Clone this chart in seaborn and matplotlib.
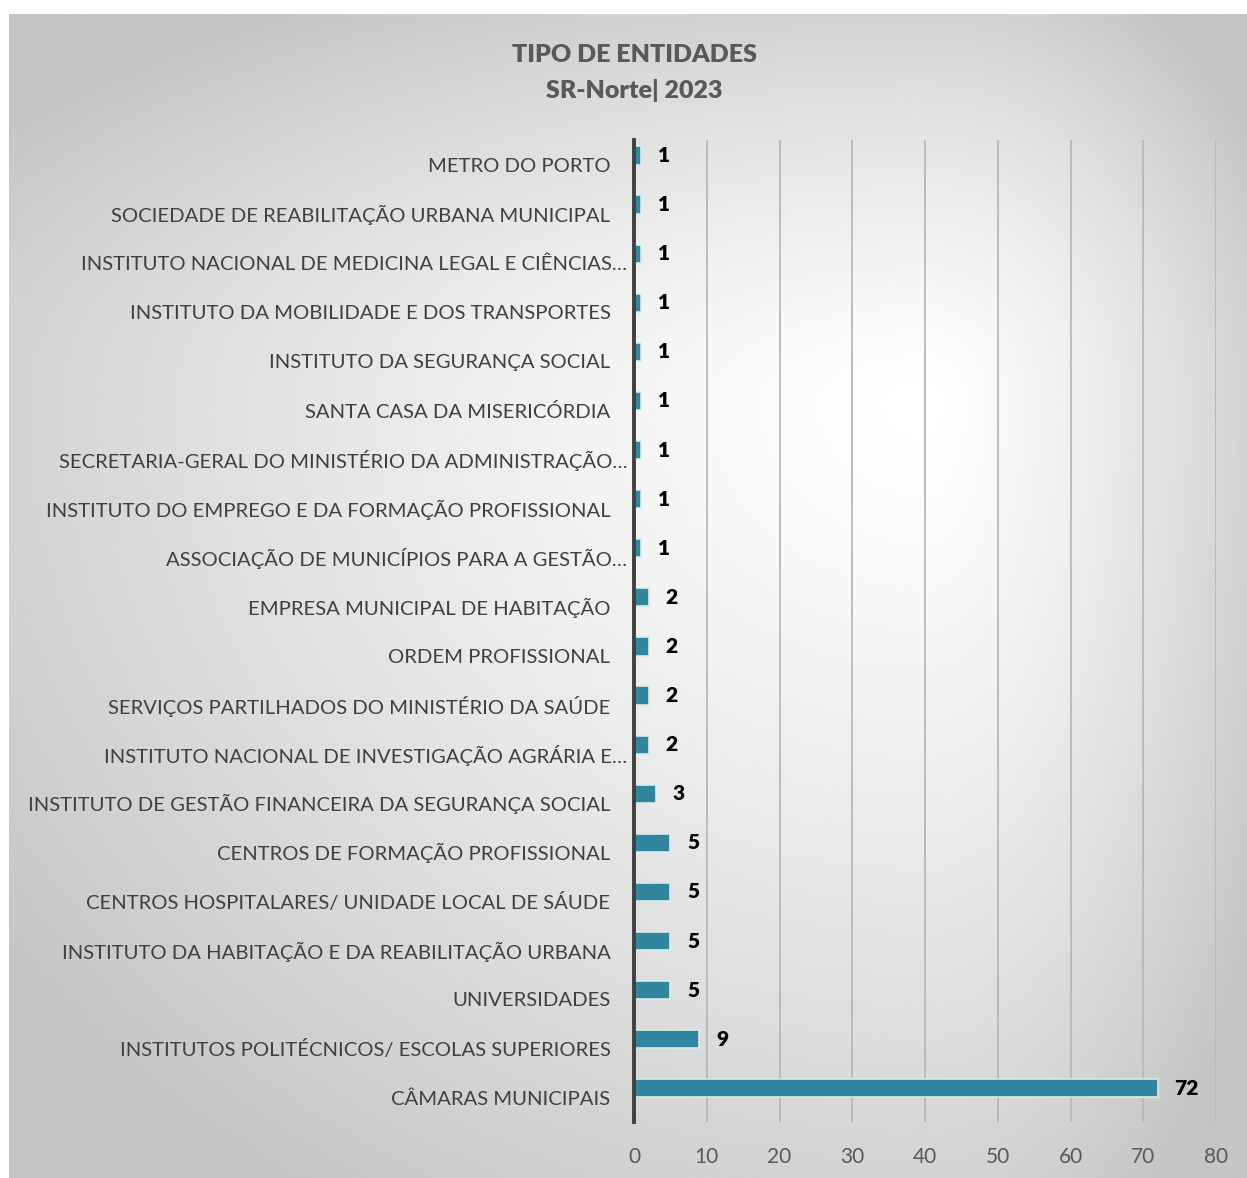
import numpy as np
import pandas as pd
import seaborn as sns
import matplotlib.pyplot as plt
import matplotlib.transforms as mtransforms

# Dados (de cima para baixo, como no gráfico)
entidades = [
    'METRO DO PORTO',
    'SOCIEDADE DE REABILITAÇÃO URBANA MUNICIPAL',
    'INSTITUTO NACIONAL DE MEDICINA LEGAL E CIÊNCIAS…',
    'INSTITUTO DA MOBILIDADE E DOS TRANSPORTES',
    'INSTITUTO DA SEGURANÇA SOCIAL',
    'SANTA CASA DA MISERICÓRDIA',
    'SECRETARIA-GERAL DO MINISTÉRIO DA ADMINISTRAÇÃO…',
    'INSTITUTO DO EMPREGO E DA FORMAÇÃO PROFISSIONAL',
    'ASSOCIAÇÃO DE MUNICÍPIOS PARA A GESTÃO…',
    'EMPRESA MUNICIPAL DE HABITAÇÃO',
    'ORDEM PROFISSIONAL',
    'SERVIÇOS PARTILHADOS DO MINISTÉRIO DA SAÚDE',
    'INSTITUTO NACIONAL DE INVESTIGAÇÃO AGRÁRIA E…',
    'INSTITUTO DE GESTÃO FINANCEIRA DA SEGURANÇA SOCIAL',
    'CENTROS DE FORMAÇÃO PROFISSIONAL',
    'CENTROS HOSPITALARES/ UNIDADE LOCAL DE SÁUDE',
    'INSTITUTO DA HABITAÇÃO E DA REABILITAÇÃO URBANA',
    'UNIVERSIDADES',
    'INSTITUTOS POLITÉCNICOS/ ESCOLAS SUPERIORES',
    'CÂMARAS MUNICIPAIS',
]
totais = [1, 1, 1, 1, 1, 1, 1, 1, 1, 2, 2, 2, 2, 3, 5, 5, 5, 5, 9, 72]
x_ticks = [0, 10, 20, 30, 40, 50, 60, 70, 80]

titulo = 'TIPO DE ENTIDADES'
subtitulo = 'SR-Norte| 2023'

df = pd.DataFrame({'entidade': entidades, 'total': totais, 'serie': 'total'})

sns.set_style('white')
plt.rcParams['font.family'] = ['Lato', 'DejaVu Sans']

W, H = 1247, 1178
fig = plt.figure(figsize=(W / 100, H / 100), dpi=100)

# Fundo com gradiente (claro no centro, cinzento nas bordas)
bg = fig.add_axes([9 / W, 0, 1 - 9 / W, 1 - 14 / H])
yy, xx = np.mgrid[0:400, 0:400]
px = 9 + xx / 399 * (W - 9)
py = 14 + yy / 399 * (H - 14)
cx, cy = 930, 400
u = np.where(px < cx, (cx - px) / (cx - 9), (px - cx) / (W - cx))
v = np.where(py < cy, (cy - py) / (cy - 14), (py - cy) / (H - cy))
d = np.clip(np.sqrt(u ** 2 + v ** 2) / 1.25, 0, 1)
shade = 1 - 0.23 * d ** 1.3
bg.imshow(shade, cmap='gray', vmin=0, vmax=1, aspect='auto', interpolation='bilinear')
bg.set_axis_off()

ax = fig.add_axes([634 / W, 1 - 1122 / H, (1216 - 634) / W, (1122 - 140) / H])
ax.set_facecolor('none')

sns.barplot(data=df, y='entidade', x='total', hue='serie', hue_order=['total', 'vazio'],
            palette={'total': '#31859C', 'vazio': '#31859C'}, saturation=1, dodge=True,
            width=0.74, edgecolor='#d6ecf1', linewidth=1.2, legend=False, ax=ax)

ax.bar_label(ax.containers[0], padding=12, fontsize=15, fontweight='heavy', color='black')

ax.set_xlim(0, 80)
ax.set_xticks(x_ticks)
ax.xaxis.grid(True, color='#b8b8b8', linewidth=1.3)
ax.set_axisbelow(True)
ax.set_xlabel('')
ax.set_ylabel('')
for s in ['top', 'right', 'bottom']:
    ax.spines[s].set_visible(False)
ax.spines['left'].set_color('#404040')
ax.spines['left'].set_linewidth(2.8)
ax.tick_params(axis='y', length=0, pad=17, labelsize=14.6, labelcolor='#404040')
ax.tick_params(axis='x', length=0, pad=18, labelsize=15, labelcolor='#595959')

# rótulos truncados (…) ficam mais perto do eixo, como no original
shift = mtransforms.ScaledTranslation(17 / 100, 0, fig.dpi_scale_trans)
for lbl in ax.get_yticklabels():
    if lbl.get_text().endswith('…'):
        lbl.set_transform(lbl.get_transform() + shift)

fig.text(634 / W, 1 - 55 / H, titulo, ha='center', va='center', fontsize=18,
         fontweight='heavy', color='#595959')
fig.text(634 / W, 1 - 91 / H, subtitulo, ha='center', va='center', fontsize=18,
         fontweight='heavy', color='#595959')

fig.savefig('out.png', dpi=100)
